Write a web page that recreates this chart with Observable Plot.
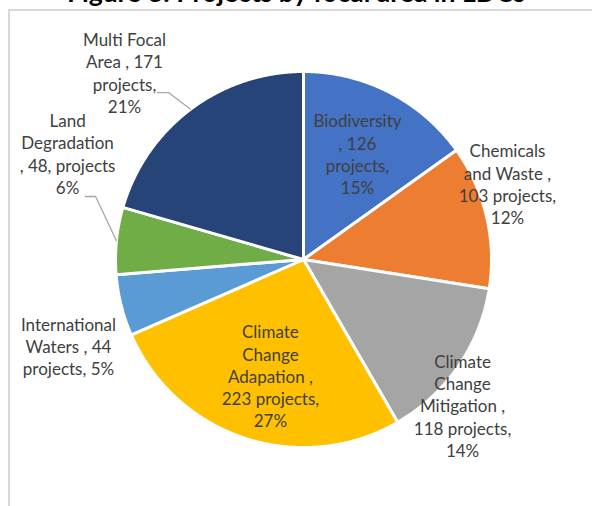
<!DOCTYPE html>
<html><head><meta charset="utf-8">
<script src="https://cdn.jsdelivr.net/npm/d3@7"></script>
<script src="https://cdn.jsdelivr.net/npm/@observablehq/plot@0.6"></script>
<style>
html,body{margin:0;padding:0;background:#fff;overflow:hidden;width:592px;height:506px;}
#title{position:absolute;left:0;width:592px;text-align:center;top:-21.5px;font:bold 26.5px Lato, sans-serif;color:#000;white-space:nowrap;line-height:26.5px;}
#frame{position:absolute;left:8px;top:9px;width:700px;height:600px;border-left:2px solid #d9d9d9;border-top:2px solid #d9d9d9;}
#chart{position:absolute;left:0;top:0;}
</style></head><body>
<div id="title">Figure 3: Projects by focal area in LDCs</div>
<div id="frame"></div>
<div id="chart"></div>
<script>
// ---- data ----
const categories = ["Biodiversity", "Chemicals and Waste", "Climate Change Mitigation", "Climate Change Adapation", "International Waters", "Land Degradation", "Multi Focal Area"];
const projects = [126, 103, 118, 223, 44, 48, 171];
const percents = [15, 12, 14, 27, 5, 6, 21];
const labels = [
  "Biodiversity\n, 126\nprojects,\n15%",
  "Chemicals\nand Waste ,\n103 projects,\n12%",
  "Climate\nChange\nMitigation ,\n118 projects,\n14%",
  "Climate\nChange\nAdapation ,\n223 projects,\n27%",
  "International\nWaters , 44\nprojects, 5%",
  "Land\nDegradation\n, 48, projects\n6%",
  "Multi Focal\nArea , 171\nprojects,\n21%"
];
const colors = ["#4472C4", "#ED7D31", "#A5A5A5", "#FFC000", "#5B9BD5", "#70AD47", "#264478"];

// ---- layout (unit-radius coordinates) ----
const labelPos = [[0.287, -0.563], [1.085, -0.403], [0.846, 0.775], [-0.176, 0.618], [-1.25, 0.459], [-1.255, -0.565], [-0.952, -0.996]];
const leaderStart = {5: [[-1.160, -0.335], [-1.106, -0.335]], 6: [[-0.777, -0.888], [-0.718, -0.888]]};

const arcs = d3.pie().sort(null).value(d => d)(projects);
const slices = arcs.map((a, i) => {
  const n = Math.max(4, Math.ceil((a.endAngle - a.startAngle) / 0.005));
  const ring = [[0, 0]];
  for (let k = 0; k <= n; k++) {
    const t = a.startAngle + (a.endAngle - a.startAngle) * k / n;
    ring.push([Math.sin(t), -Math.cos(t)]);
  }
  ring.push([0, 0]);
  return {type: "Feature", properties: {name: categories[i]}, geometry: {type: "Polygon", coordinates: [ring]}};
});
const leaders = Object.entries(leaderStart).map(([i, pts]) => {
  const a = arcs[+i];
  const m = (a.startAngle + a.endAngle) / 2;
  return {type: "Feature", properties: {}, geometry: {type: "LineString", coordinates: [...pts, [Math.sin(m) * 1.0, -Math.cos(m) * 1.0]]}};
});
const labelData = labels.map((t, i) => ({text: t, x: labelPos[i][0], y: labelPos[i][1]}));

const chart = Plot.plot({
  width: 592, height: 506,
  marginLeft: 115, marginRight: 101, marginTop: 71, marginBottom: 59,
  projection: {type: "identity", clip: false, domain: {type: "Polygon", coordinates: [[[-1, -1], [1, -1], [1, 1], [-1, 1], [-1, -1]]]}},
  color: {domain: categories, range: colors},
  style: {fontFamily: "Lato, sans-serif", background: "transparent"},
  marks: [
    Plot.geo(slices, {fill: d => d.properties.name, stroke: "white", strokeWidth: 3, strokeLinejoin: "miter"}),
    Plot.geo(leaders, {stroke: "#a6a6a6", strokeWidth: 1.3, fill: "none"}),
    Plot.text(labelData, {x: "x", y: "y", text: "text", fill: "#404040", fontSize: 17, lineHeight: 1.31})
  ]
});
document.getElementById("chart").appendChild(chart);
</script>
</body></html>
